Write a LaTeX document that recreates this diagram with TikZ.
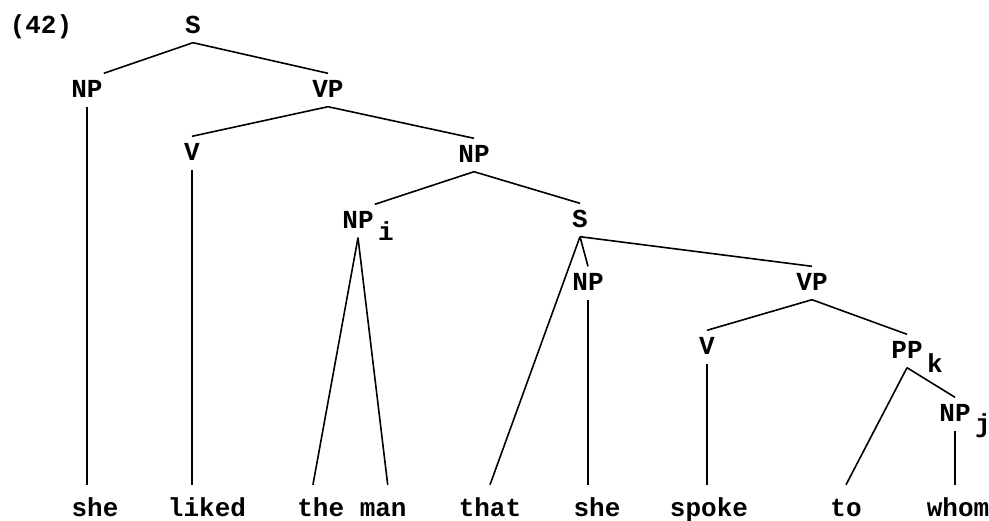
\documentclass[tikz,border=0pt]{standalone}
\usepackage{fontspec}
\setmainfont{Liberation Mono}
\usetikzlibrary{calc}
\begin{document}
\begin{tikzpicture}[x=1pt,y=-1pt,
  fnt/.style={font=\fontsize{26}{26}\selectfont\bfseries},
  lab/.style={fnt, text height=15pt, text depth=0pt, inner xsep=1pt, inner ysep=9pt},
  word/.style={fnt, anchor=base, text height=30pt, text depth=0pt, inner xsep=1pt, inner ysep=1pt},
  subsc/.style={fnt, inner sep=0pt, anchor=west, yshift=-12pt, xshift=3pt},
  edge/.style={line width=1.6pt}]
\useasboundingbox (0,0) rectangle (989,520);
% labels
\node[lab] (ex) at (41,26) {(42)};
\node[lab] (s1) at (193,26) {S};
\node[lab] (np1) at (87,90) {NP};
\node[lab] (vp1) at (328,90) {VP};
\node[lab] (v1) at (192,153) {V};
\node[lab] (np2) at (474,155) {NP};
\node[lab, label={[subsc, yshift=2pt]0:i}] (npi) at (358,221) {NP};
\node[lab] (s2) at (580,220) {S};
\node[lab] (np3) at (588,283) {NP};
\node[lab] (vp2) at (812,283) {VP};
\node[lab] (v2) at (707,347) {V};
\node[lab, label={[subsc]0:k}] (ppk) at (907,351) {PP};
\node[lab, label={[subsc]0:j}] (npj) at (955,414) {NP};
% words
\node[word] (she1) at (95,516) {she};
\node[word] (liked) at (207,516) {liked};
\node[word] (theman) at (352,516) {the man};
\node[word] (that) at (490,516) {that};
\node[word] (she2) at (597,516) {she};
\node[word] (spoke) at (709,516) {spoke};
\node[word] (to) at (846,516) {to};
\node[word] (whom) at (958,516) {whom};
% edges
\draw[edge] (s1.south) -- (np1.north east);
\draw[edge] (s1.south) -- (vp1.north);
\draw[edge] (np1.south) -- (np1.south |- she1.north);
\draw[edge] (vp1.south) -- (v1.north);
\draw[edge] (vp1.south) -- (np2.north);
\draw[edge] (v1.south) -- (v1.south |- liked.north);
\draw[edge] (np2.south) -- (npi.north east);
\draw[edge] (np2.south) -- (s2.north);
\draw[edge] (npi.south) -- ($(theman.north west)!0.15!(theman.north east)$);
\draw[edge] (npi.south) -- ($(theman.north west)!0.82!(theman.north east)$);
\draw[edge] (s2.south) -- (that.north);
\draw[edge] (s2.south) -- (np3.north);
\draw[edge] (s2.south) -- (vp2.north);
\draw[edge] (np3.south) -- (np3.south |- she2.north);
\draw[edge] (vp2.south) -- (v2.north);
\draw[edge] (vp2.south) -- (ppk.north);
\draw[edge] (v2.south) -- (v2.south |- spoke.north);
\draw[edge] (ppk.south) -- (to.north);
\draw[edge] (ppk.south) -- (npj.north);
\draw[edge] (npj.south) -- (npj.south |- whom.north);
\end{tikzpicture}
\end{document}
